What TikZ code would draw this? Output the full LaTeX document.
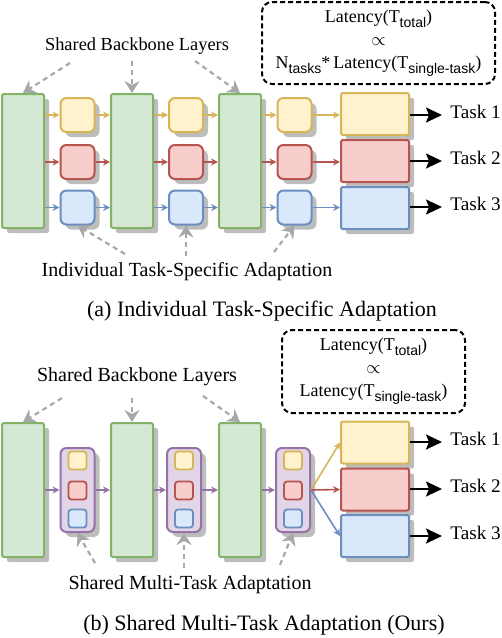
\documentclass[tikz,border=0pt]{standalone}
\usepackage{fontspec}
\setmainfont{Liberation Serif}
\newfontfamily\subsans{Liberation Sans}
\usepackage{tikz}
\usetikzlibrary{arrows.meta,positioning,calc,shadows}
\definecolor{bbfill}{HTML}{D5E8D4}
\definecolor{bbline}{HTML}{82B366}
\definecolor{yfill}{HTML}{FFF2CC}
\definecolor{yline}{HTML}{D6B656}
\definecolor{rfill}{HTML}{F8CECC}
\definecolor{rline}{HTML}{B85450}
\definecolor{bfill}{HTML}{DAE8FC}
\definecolor{bline}{HTML}{6C8EBF}
\definecolor{pfill}{HTML}{E1D5E7}
\definecolor{pline}{HTML}{9673A6}
\definecolor{shadowgray}{HTML}{BDBDBD}
\definecolor{hintgray}{HTML}{A8A8A8}
\newcommand{\latsub}[1]{\raisebox{-0.6ex}{\subsans\fontsize{7}{8}\selectfont #1}}

\begin{document}
\begin{tikzpicture} [
  x=0.5pt, y=-0.5pt,
  shade/.style= {drop shadow={shadow xshift=2.5pt,shadow yshift=-2.5pt,fill=shadowgray,opacity=1}},
  backbone/.style= {shade,draw=bbline,fill=bbfill,line width=1pt,rounded corners=1pt,minimum width=21pt,minimum height=67pt,inner sep=0},
  adapter/.style= {shade,draw=#1line,fill=#1fill,line width=1pt,rounded corners=3pt,minimum size=17pt,inner sep=0},
  head/.style= {shade,draw=#1line,fill=#1fill,line width=1pt,rounded corners=1pt,minimum width=34pt,minimum height=21pt,inner sep=0},
  shared/.style= {shade,draw=pline,fill=pfill,line width=1pt,rounded corners=3pt,minimum width=17pt,minimum height=42pt,inner sep=0},
  cell/.style= {draw=#1line,fill=#1fill,line width=0.9pt,rounded corners=1.5pt,minimum size=9pt,inner sep=0},
  flow/.style= {draw=#1,line width=0.8pt,-{Stealth[length=3.5pt,width=3.5pt]}},
  out arrow/.style= {line width=1.1pt,-{Stealth[length=8pt,width=7.5pt,inset=1.5pt]}},
  hint/.style= {draw=hintgray,line width=1.1pt,dash pattern=on 2.5pt off 2pt,-{Stealth[length=6pt,width=7.5pt,inset=2pt]}},
  formula/.style= {draw,line width=1pt,dash pattern=on 2.5pt off 1.5pt,rounded corners=5pt,align=center,inner sep=0,font=\fontsize{9}{11.5}\selectfont},
  task/.style= {anchor=base west,inner sep=0,font=\fontsize{9.6}{11}\selectfont},
  note/.style= {inner sep=0,font=\fontsize{10}{12}\selectfont},
  caption/.style= {inner sep=0,font=\fontsize{11}{13}\selectfont}
]
\useasboundingbox (0,0) rectangle (502,638);

% (a)
\foreach \i/\x in {1/23,2/132,3/240}
  \node (a-B\i) [backbone] at (\x,161) {};
\foreach \i/\x in {1/77.5,2/186,3/294.5} {
  \node (a-Y\i) [adapter=y] at (\x,115) {};
  \node (a-R\i) [adapter=r] at (\x,162) {};
  \node (a-L\i) [adapter=b] at (\x,207.5) {};
}
\node (a-H1) [head=y] at (375,114) {};
\node (a-H2) [head=r] at (375,161) {};
\node (a-H3) [head=b] at (375,208) {};
\foreach \r/\clr in {Y/yline,R/rline,L/bline} {
  \draw [flow=\clr] (a-B1.east |- a-\r1) -- (a-\r1);
  \draw [flow=\clr] (a-\r1) -- (a-B2.west |- a-\r1);
  \draw [flow=\clr] (a-B2.east |- a-\r2) -- (a-\r2);
  \draw [flow=\clr] (a-\r2) -- (a-B3.west |- a-\r2);
  \draw [flow=\clr] (a-B3.east |- a-\r3) -- (a-\r3);
  \draw [flow=\clr] (a-\r3) -- (a-H1.west |- a-\r3);
}
\foreach \k/\y in {1/115,2/161,3/207} {
  \coordinate (a-E\k) at (442,\y);
  \draw [out arrow] (a-H\k.east |- a-E\k) -- (a-E\k);
  \node (a-T\k) [task] at (450,\y+3) {Task \k};
}
\node (a-F) [formula,minimum width=116.5pt,minimum height=41pt] at (378.5,43)
  {Latency(T\latsub{total})\\$\propto$\\N\latsub{tasks}*\,Latency(T\latsub{single-task})};
\node (a-SB) [note,font=\fontsize{9.2}{11}\selectfont] at (137,46) {Shared Backbone Layers};
\coordinate (a-s1) at (70,63);
\coordinate (a-s2) at (132,61);
\coordinate (a-s3) at (195,61);
\draw [hint] (a-s1) -- (a-B1.north);
\draw [hint] (a-s2) -- (a-B2.north);
\draw [hint] (a-s3) -- (a-B3.north);
\node (a-IT) [note] at (187,272) {Individual Task-Specific Adaptation};
\coordinate (a-t1) at (125,254);
\coordinate (a-t2) at (186,256);
\coordinate (a-t3) at (274,252);
\draw [hint] (a-t1) -- (a-L1.south);
\draw [hint] (a-t2) -- (a-L2.south);
\draw [hint] (a-t3) -- (a-L3.south);
\node (a-cap) [caption] at (262,311) {(a) Individual Task-Specific Adaptation};

% (b)
\foreach \i/\x in {1/23,2/132,3/240}
  \node (b-B\i) [backbone] at (\x,490) {};
\foreach \i/\x in {1/77.5,2/184,3/293} {
  \node (b-M\i) [shared] at (\x,490) {};
  \node (b-Y\i) [cell=y] at (\x,460.5) {};
  \node (b-R\i) [cell=r] at (\x,490.5) {};
  \node (b-L\i) [cell=b] at (\x,518.5) {};
}
\node (b-H1) [head=y] at (375,442.5) {};
\node (b-H2) [head=r] at (375,489.5) {};
\node (b-H3) [head=b] at (375,536) {};
\draw [flow=pline] (b-B1) -- (b-M1);
\draw [flow=pline] (b-M1) -- (b-B2);
\draw [flow=pline] (b-B2) -- (b-M2);
\draw [flow=pline] (b-M2) -- (b-B3);
\draw [flow=pline] (b-B3) -- (b-M3);
\draw [flow=yline] (b-M3.east) -- (b-H1.west);
\draw [flow=rline] (b-M3.east) -- (b-H2.west);
\draw [flow=bline] (b-M3.east) -- (b-H3.west);
\foreach \k/\y in {1/442,2/489,3/536} {
  \coordinate (b-E\k) at (442,\y);
  \draw [out arrow] (b-H\k.east |- b-E\k) -- (b-E\k);
  \node (b-T\k) [task] at (450,\y+3) {Task \k};
}
\node (b-F) [formula,minimum width=91.5pt,minimum height=41.5pt] at (373.5,371.5)
  {Latency(T\latsub{total})\\$\propto$\\Latency(T\latsub{single-task})};
\node (b-SB) [note] at (137,377) {Shared Backbone Layers};
\coordinate (b-s1) at (62,398);
\coordinate (b-s2) at (132,398);
\coordinate (b-s3) at (203,396);
\draw [hint] (b-s1) -- (b-B1.north);
\draw [hint] (b-s2) -- (b-B2.north);
\draw [hint] (b-s3) -- (b-B3.north);
\node (b-SM) [note] at (190,585) {Shared Multi-Task Adaptation};
\coordinate (b-t1) at (95,563);
\coordinate (b-t2) at (184,568);
\coordinate (b-t3) at (280,565);
\draw [hint] (b-t1) -- (b-M1.south);
\draw [hint] (b-t2) -- (b-M2.south);
\draw [hint] (b-t3) -- (b-M3.south);
\node (b-cap) [caption] at (264,625) {(b) Shared Multi-Task Adaptation (Ours)};
\end{tikzpicture}
\end{document}
